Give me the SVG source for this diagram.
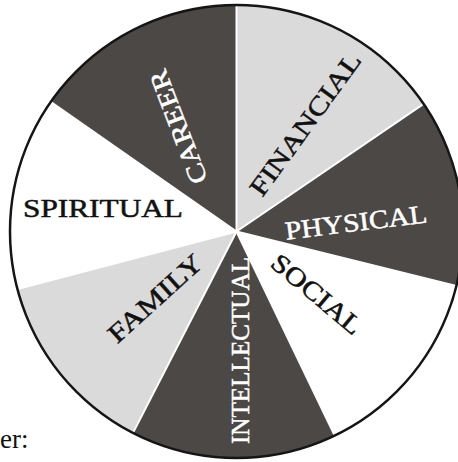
<svg xmlns="http://www.w3.org/2000/svg" width="458" height="462" viewBox="0 0 458 462">
<style>
.dark{fill:#4b4846}
.light{fill:#dadada}
.white{fill:#ffffff}
.lbl{font-family:"Liberation Serif","Times New Roman",serif;font-size:26px;text-anchor:middle;stroke-width:0.5}
.on-dark{fill:#ffffff;stroke:#ffffff}
.on-light{fill:#111111;stroke:#111111}
.spoke{stroke:#ffffff;stroke-width:2}
</style>
<rect width="458" height="462" fill="#ffffff"/>
<g id="career">
<path class="dark" d="M236.5 231.5 L50.7 101.9 A226.5 226.5 0 0 1 236.5 5 Z"/>
<text class="lbl on-dark" transform="translate(178,127) rotate(-111)" y="9" textLength="120" lengthAdjust="spacingAndGlyphs">CAREER</text>
</g>
<g id="financial">
<path class="light" d="M236.5 231.5 L236.5 5 A226.5 226.5 0 0 1 423.6 103.9 Z"/>
<text class="lbl on-light" transform="translate(305,124) rotate(-54)" y="9" textLength="170" lengthAdjust="spacingAndGlyphs">FINANCIAL</text>
</g>
<g id="physical">
<path class="dark" d="M236.5 231.5 L423.6 103.9 A226.5 226.5 0 0 1 456.4 285.9 Z"/>
<text class="lbl on-dark" transform="translate(356,222) rotate(-7)" y="9" textLength="143" lengthAdjust="spacingAndGlyphs">PHYSICAL</text>
</g>
<g id="social">
<path class="white" d="M236.5 231.5 L456.4 285.9 A226.5 226.5 0 0 1 334.7 435.6 Z"/>
<text class="lbl on-light" transform="translate(317,294) rotate(40)" y="9" textLength="110" lengthAdjust="spacingAndGlyphs">SOCIAL</text>
</g>
<g id="intellectual">
<path class="dark" d="M236.5 231.5 L334.7 435.6 A226.5 226.5 0 0 1 133 432.9 Z"/>
<text class="lbl on-dark" transform="translate(240,350.5) rotate(-90)" y="9" textLength="187" lengthAdjust="spacingAndGlyphs">INTELLECTUAL</text>
</g>
<g id="family">
<path class="light" d="M236.5 231.5 L133 432.9 A226.5 226.5 0 0 1 17.4 289 Z"/>
<text class="lbl on-light" transform="translate(155,298) rotate(-42)" y="9" textLength="118" lengthAdjust="spacingAndGlyphs">FAMILY</text>
</g>
<g id="spiritual">
<path class="white" d="M236.5 231.5 L17.4 289 A226.5 226.5 0 0 1 50.7 101.9 Z"/>
<text class="lbl on-light" x="103" y="217" textLength="160" lengthAdjust="spacingAndGlyphs">SPIRITUAL</text>
</g>
<g id="connectors">
<line class="spoke" x1="236.5" y1="231.5" x2="236.5" y2="5"/>
<line class="spoke" x1="236.5" y1="231.5" x2="423.6" y2="103.9"/>
<line class="spoke" x1="236.5" y1="231.5" x2="456.4" y2="285.9"/>
<line class="spoke" x1="236.5" y1="231.5" x2="334.7" y2="435.6"/>
<line class="spoke" x1="236.5" y1="231.5" x2="133" y2="432.9"/>
<line class="spoke" x1="236.5" y1="231.5" x2="17.4" y2="289"/>
<line class="spoke" x1="236.5" y1="231.5" x2="50.7" y2="101.9"/>
</g>
<circle id="rim" cx="236.5" cy="231.5" r="226.5" fill="none" stroke="#151515" stroke-width="2.5"/>
<text x="0" y="448" font-family="'Liberation Serif','Times New Roman',serif" font-size="27" fill="#111111">er:</text>
</svg>
